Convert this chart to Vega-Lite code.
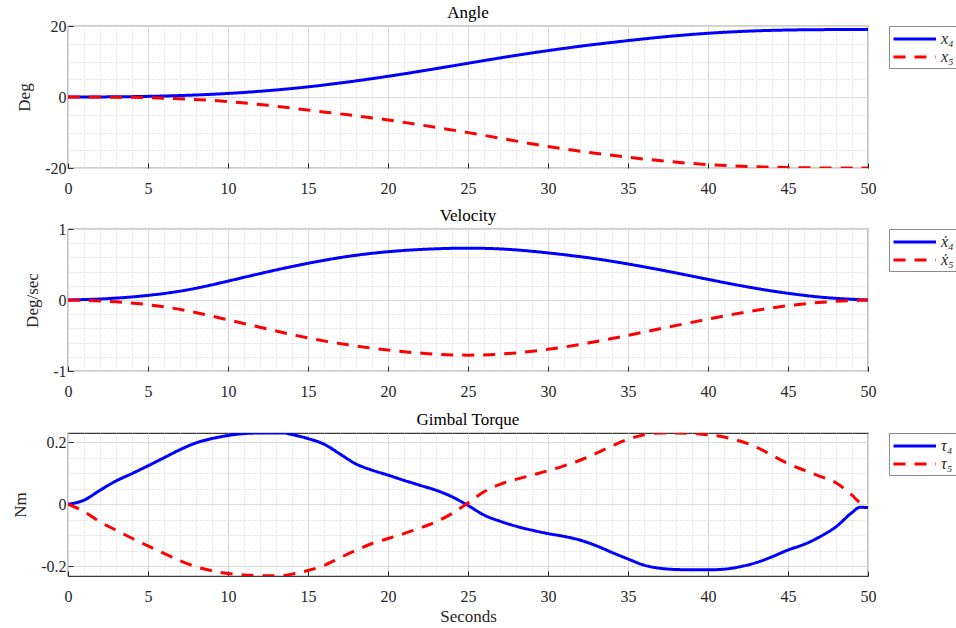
{
  "$schema": "https://vega.github.io/schema/vega-lite/v6.json",
  "padding": {"left": 11, "top": 3, "right": 0, "bottom": 0},
  "background": "white",
  "datasets": {
    "angle": [
      {"t": 0, "x4": 0, "x5": 0},
      {"t": 2.5, "x4": 0.02, "x5": -0.02},
      {"t": 5, "x4": 0.15, "x5": -0.15},
      {"t": 7.5, "x4": 0.45, "x5": -0.55},
      {"t": 10, "x4": 0.95, "x5": -1.2},
      {"t": 12.5, "x4": 1.75, "x5": -2.3},
      {"t": 15, "x4": 2.8, "x5": -3.7},
      {"t": 17.5, "x4": 4.2, "x5": -5.0},
      {"t": 20, "x4": 5.8, "x5": -6.4},
      {"t": 22.5, "x4": 7.6, "x5": -8.2},
      {"t": 25, "x4": 9.5, "x5": -10.0},
      {"t": 27.5, "x4": 11.4, "x5": -12.0},
      {"t": 30, "x4": 13.1, "x5": -14.0},
      {"t": 32.5, "x4": 14.6, "x5": -15.6},
      {"t": 35, "x4": 15.9, "x5": -17.0},
      {"t": 37.5, "x4": 17.1, "x5": -18.2},
      {"t": 40, "x4": 18.0, "x5": -19.1},
      {"t": 42.5, "x4": 18.6, "x5": -19.6},
      {"t": 45, "x4": 18.9, "x5": -19.9},
      {"t": 47.5, "x4": 19.0, "x5": -20.0},
      {"t": 50, "x4": 19.0, "x5": -20.0}
    ],
    "velocity": [
      {"t": 0, "x4": 0, "x5": 0},
      {"t": 2.5, "x4": 0.015, "x5": -0.012},
      {"t": 5, "x4": 0.06, "x5": -0.06},
      {"t": 7.5, "x4": 0.135, "x5": -0.145},
      {"t": 10, "x4": 0.265, "x5": -0.28},
      {"t": 12.5, "x4": 0.4, "x5": -0.41},
      {"t": 15, "x4": 0.52, "x5": -0.54},
      {"t": 17.5, "x4": 0.62, "x5": -0.635},
      {"t": 20, "x4": 0.685, "x5": -0.71},
      {"t": 22.5, "x4": 0.72, "x5": -0.76},
      {"t": 25, "x4": 0.735, "x5": -0.785},
      {"t": 27.5, "x4": 0.72, "x5": -0.76},
      {"t": 30, "x4": 0.665, "x5": -0.7},
      {"t": 32.5, "x4": 0.6, "x5": -0.61},
      {"t": 35, "x4": 0.51, "x5": -0.5},
      {"t": 37.5, "x4": 0.405, "x5": -0.38},
      {"t": 40, "x4": 0.29, "x5": -0.27},
      {"t": 42.5, "x4": 0.18, "x5": -0.16},
      {"t": 45, "x4": 0.09, "x5": -0.075},
      {"t": 47.5, "x4": 0.025, "x5": -0.02},
      {"t": 50, "x4": 0, "x5": 0}
    ],
    "torque": [
      {"t": 0, "x4": 0, "x5": 0},
      {"t": 1, "x4": 0.013, "x5": -0.024},
      {"t": 2, "x4": 0.045, "x5": -0.057},
      {"t": 3, "x4": 0.075, "x5": -0.084},
      {"t": 4, "x4": 0.099, "x5": -0.11},
      {"t": 5, "x4": 0.124, "x5": -0.135},
      {"t": 6, "x4": 0.15, "x5": -0.159},
      {"t": 7, "x4": 0.176, "x5": -0.183},
      {"t": 8, "x4": 0.198, "x5": -0.202},
      {"t": 9, "x4": 0.212, "x5": -0.215},
      {"t": 10, "x4": 0.222, "x5": -0.224},
      {"t": 11, "x4": 0.228, "x5": -0.229},
      {"t": 12, "x4": 0.23, "x5": -0.231},
      {"t": 13, "x4": 0.23, "x5": -0.231},
      {"t": 13.5, "x4": 0.23, "x5": -0.23},
      {"t": 14, "x4": 0.225, "x5": -0.226},
      {"t": 15, "x4": 0.212, "x5": -0.214},
      {"t": 16, "x4": 0.194, "x5": -0.198},
      {"t": 17, "x4": 0.162, "x5": -0.173},
      {"t": 18, "x4": 0.13, "x5": -0.149},
      {"t": 19, "x4": 0.11, "x5": -0.127},
      {"t": 20, "x4": 0.094, "x5": -0.111},
      {"t": 21, "x4": 0.077, "x5": -0.095},
      {"t": 22, "x4": 0.061, "x5": -0.077},
      {"t": 23, "x4": 0.045, "x5": -0.057},
      {"t": 24, "x4": 0.024, "x5": -0.03},
      {"t": 25, "x4": -0.004, "x5": 0.004},
      {"t": 26, "x4": -0.035, "x5": 0.04},
      {"t": 27, "x4": -0.055, "x5": 0.064},
      {"t": 28, "x4": -0.071, "x5": 0.08},
      {"t": 29, "x4": -0.084, "x5": 0.094},
      {"t": 30, "x4": -0.095, "x5": 0.108},
      {"t": 31, "x4": -0.104, "x5": 0.124},
      {"t": 32, "x4": -0.116, "x5": 0.142},
      {"t": 33, "x4": -0.134, "x5": 0.164},
      {"t": 34, "x4": -0.156, "x5": 0.188},
      {"t": 35, "x4": -0.177, "x5": 0.21},
      {"t": 36, "x4": -0.197, "x5": 0.224},
      {"t": 37, "x4": -0.207, "x5": 0.23},
      {"t": 38, "x4": -0.211, "x5": 0.23},
      {"t": 39, "x4": -0.212, "x5": 0.229},
      {"t": 40, "x4": -0.212, "x5": 0.224},
      {"t": 41, "x4": -0.21, "x5": 0.217},
      {"t": 42, "x4": -0.202, "x5": 0.204},
      {"t": 43, "x4": -0.189, "x5": 0.185},
      {"t": 44, "x4": -0.17, "x5": 0.158},
      {"t": 45, "x4": -0.148, "x5": 0.131},
      {"t": 46, "x4": -0.13, "x5": 0.11},
      {"t": 47, "x4": -0.105, "x5": 0.09},
      {"t": 48, "x4": -0.073, "x5": 0.069},
      {"t": 49, "x4": -0.027, "x5": 0.029},
      {"t": 49.5, "x4": -0.01, "x5": 0.007},
      {"t": 50, "x4": -0.011, "x5": 0.004}
    ]
  },
  "vconcat": [
    {
      "width": 800,
      "height": 142,
      "title": {"text": "Angle", "offset": -4},
      "data": {"name": "angle"},
      "transform": [{"fold": ["x4", "x5"], "as": ["s", "v"]}],
      "mark": {"type": "line", "strokeWidth": 3, "interpolate": "basis", "clip": true},
      "encoding": {
        "x": {"field": "t", "type": "quantitative", "scale": {"domain": [0, 50], "nice": false},
          "axis": {"title": null,
            "values": [0,1,2,3,4,5,6,7,8,9,10,11,12,13,14,15,16,17,18,19,20,21,22,23,24,25,26,27,28,29,30,31,32,33,34,35,36,37,38,39,40,41,42,43,44,45,46,47,48,49,50],
            "labelExpr": "datum.value % 5 === 0 ? datum.label : ''",
            "gridDash": {"condition": {"test": "datum.value % 5 === 0", "value": []}, "value": [1, 2]},
            "gridColor": {"condition": {"test": "datum.value % 5 === 0", "value": "#dadada"}, "value": "#cdcdcd"},
            "tickOpacity": {"condition": {"test": "datum.value % 5 === 0", "value": 1}, "value": 0}}},
        "y": {"field": "v", "type": "quantitative", "scale": {"domain": [-20, 20], "nice": false},
          "axis": {"title": "Deg", "format": "d",
            "values": [-20,-15,-10,-5,0,5,10,15,20],
            "labelExpr": "datum.value % 20 === 0 ? replace(datum.label, '−', '-') : ''",
            "gridDash": {"condition": {"test": "datum.value % 20 === 0", "value": []}, "value": [1, 2]},
            "gridColor": {"condition": {"test": "datum.value % 20 === 0", "value": "#dadada"}, "value": "#cdcdcd"},
            "tickOpacity": {"condition": {"test": "datum.value % 20 === 0", "value": 1}, "value": 0}}},
        "color": {"field": "s", "type": "nominal", "scale": {"domain": ["x4", "x5"], "range": ["#0000ff", "#ff0000"]},
          "legend": {"title": null, "labelExpr": "datum.label == 'x4' ? 'x₄' : 'x₅'"}},
        "strokeDash": {"field": "s", "type": "nominal", "scale": {"domain": ["x4", "x5"], "range": [[1, 0], [12, 9]]},
          "legend": {"title": null, "labelExpr": "datum.label == 'x4' ? 'x₄' : 'x₅'"}}
      }
    },
    {
      "width": 800,
      "height": 142,
      "title": {"text": "Velocity", "offset": -4},
      "data": {"name": "velocity"},
      "transform": [{"fold": ["x4", "x5"], "as": ["s", "v"]}],
      "mark": {"type": "line", "strokeWidth": 3, "interpolate": "basis", "clip": true},
      "encoding": {
        "x": {"field": "t", "type": "quantitative", "scale": {"domain": [0, 50], "nice": false},
          "axis": {"title": null,
            "values": [0,1,2,3,4,5,6,7,8,9,10,11,12,13,14,15,16,17,18,19,20,21,22,23,24,25,26,27,28,29,30,31,32,33,34,35,36,37,38,39,40,41,42,43,44,45,46,47,48,49,50],
            "labelExpr": "datum.value % 5 === 0 ? datum.label : ''",
            "gridDash": {"condition": {"test": "datum.value % 5 === 0", "value": []}, "value": [1, 2]},
            "gridColor": {"condition": {"test": "datum.value % 5 === 0", "value": "#dadada"}, "value": "#cdcdcd"},
            "tickOpacity": {"condition": {"test": "datum.value % 5 === 0", "value": 1}, "value": 0}}},
        "y": {"field": "v", "type": "quantitative", "scale": {"domain": [-1, 1], "nice": false},
          "axis": {"title": "Deg/sec", "format": "~g",
            "values": [-1,-0.8,-0.6,-0.4,-0.2,0,0.2,0.4,0.6,0.8,1],
            "labelExpr": "abs(datum.value % 1) < 0.001 ? replace(datum.label, '−', '-') : ''",
            "gridDash": {"condition": {"test": "abs(datum.value % 1) < 0.001", "value": []}, "value": [1, 2]},
            "gridColor": {"condition": {"test": "abs(datum.value % 1) < 0.001", "value": "#dadada"}, "value": "#cdcdcd"},
            "tickOpacity": {"condition": {"test": "abs(datum.value % 1) < 0.001", "value": 1}, "value": 0}}},
        "color": {"field": "s", "type": "nominal", "scale": {"domain": ["x4", "x5"], "range": ["#0000ff", "#ff0000"]},
          "legend": {"title": null, "labelExpr": "datum.label == 'x4' ? 'ẋ₄' : 'ẋ₅'"}},
        "strokeDash": {"field": "s", "type": "nominal", "scale": {"domain": ["x4", "x5"], "range": [[1, 0], [12, 9]]},
          "legend": {"title": null, "labelExpr": "datum.label == 'x4' ? 'ẋ₄' : 'ẋ₅'"}}
      }
    },
    {
      "width": 800,
      "height": 143,
      "title": {"text": "Gimbal Torque", "offset": 4},
      "data": {"name": "torque"},
      "transform": [{"fold": ["x4", "x5"], "as": ["s", "v"]}],
      "mark": {"type": "line", "strokeWidth": 3, "interpolate": "monotone", "clip": true},
      "encoding": {
        "x": {"field": "t", "type": "quantitative", "scale": {"domain": [0, 50], "nice": false},
          "axis": {"title": "Seconds",
            "values": [0,1,2,3,4,5,6,7,8,9,10,11,12,13,14,15,16,17,18,19,20,21,22,23,24,25,26,27,28,29,30,31,32,33,34,35,36,37,38,39,40,41,42,43,44,45,46,47,48,49,50],
            "labelExpr": "datum.value % 5 === 0 ? datum.label : ''",
            "gridDash": {"condition": {"test": "datum.value % 5 === 0", "value": []}, "value": [1, 2]},
            "gridColor": {"condition": {"test": "datum.value % 5 === 0", "value": "#dadada"}, "value": "#cdcdcd"},
            "tickOpacity": {"condition": {"test": "datum.value % 5 === 0", "value": 1}, "value": 0}}},
        "y": {"field": "v", "type": "quantitative", "scale": {"domain": [-0.232, 0.23], "nice": false, "zero": false},
          "axis": {"title": "Nm", "format": ".1~f",
            "values": [-0.2,-0.15,-0.1,-0.05,0,0.05,0.1,0.15,0.2],
            "labelExpr": "abs(datum.value) < 0.001 || abs(abs(datum.value) - 0.2) < 0.001 ? replace(datum.label, '−', '-') : ''",
            "gridDash": {"condition": {"test": "abs(datum.value) < 0.001 || abs(abs(datum.value) - 0.2) < 0.001", "value": []}, "value": [1, 2]},
            "gridColor": {"condition": {"test": "abs(datum.value) < 0.001 || abs(abs(datum.value) - 0.2) < 0.001", "value": "#dadada"}, "value": "#cdcdcd"},
            "tickOpacity": {"condition": {"test": "abs(datum.value) < 0.001 || abs(abs(datum.value) - 0.2) < 0.001", "value": 1}, "value": 0}}},
        "color": {"field": "s", "type": "nominal", "scale": {"domain": ["x4", "x5"], "range": ["#0000ff", "#ff0000"]},
          "legend": {"title": null, "labelExpr": "datum.label == 'x4' ? 'τ₄' : 'τ₅'"}},
        "strokeDash": {"field": "s", "type": "nominal", "scale": {"domain": ["x4", "x5"], "range": [[1, 0], [12, 9]]},
          "legend": {"title": null, "labelExpr": "datum.label == 'x4' ? 'τ₄' : 'τ₅'"}}
      }
    }
  ],
  "resolve": {"scale": {"color": "independent", "strokeDash": "independent", "y": "independent"}, "legend": {"color": "independent", "strokeDash": "independent"}},
  "config": {
    "font": "Liberation Serif",
    "view": {"stroke": "#3a3a3a", "strokeWidth": 1.2},
    "concat": {"spacing": 9},
    "title": {"font": "Liberation Serif", "fontSize": 17, "fontWeight": "normal", "color": "#000000", "frame": "group", "anchor": "middle"},
    "axis": {
      "domain": false,
      "labelFont": "Liberation Serif", "labelFontSize": 16, "labelColor": "#262626",
      "labelFlush": false, "labelOverlap": false, "labelBound": false,
      "titleFont": "Liberation Serif", "titleFontSize": 17, "titleFontWeight": "normal", "titleColor": "#262626",
      "tickColor": "#262626", "tickSize": -5, "tickWidth": 1,
      "gridWidth": 1
    },
    "axisX": {"labelPadding": 17, "titlePadding": 4},
    "axisY": {"labelPadding": 7, "titlePadding": 11},
    "legend": {
      "orient": "right", "offset": 21, "padding": 3,
      "strokeColor": "#8a8a8a", "fillColor": "#ffffff", "cornerRadius": 0,
      "labelFont": "Liberation Serif", "labelFontSize": 16, "labelFontStyle": "italic", "labelColor": "#262626",
      "labelOffset": 29,
      "symbolType": "M-1,0L4,0", "symbolStrokeWidth": 3, "symbolSize": 289, "rowPadding": 0
    }
  }
}
